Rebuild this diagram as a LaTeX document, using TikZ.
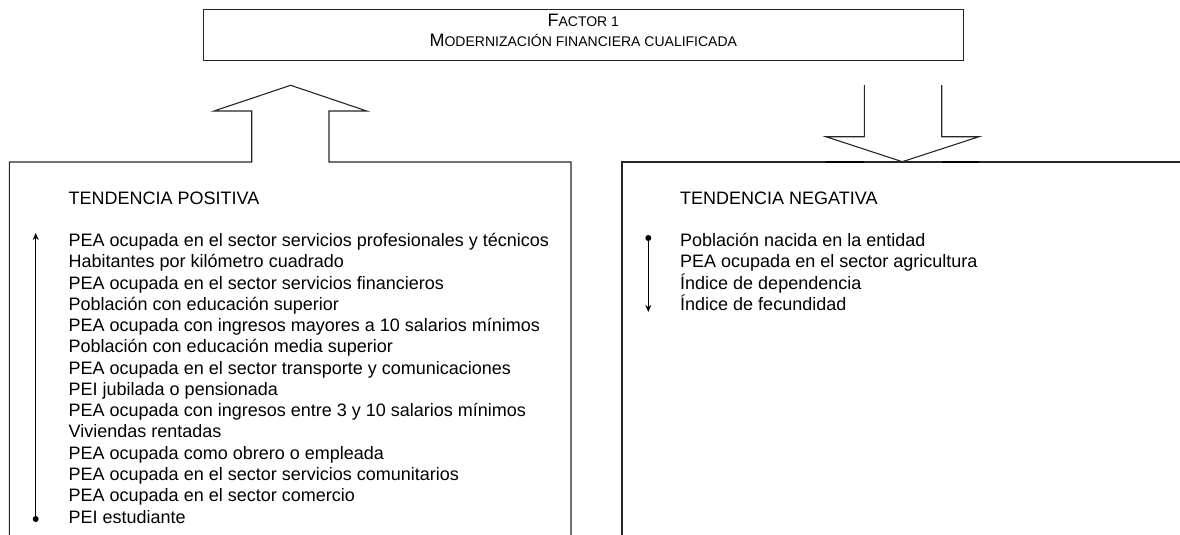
\documentclass[tikz,border=0pt]{standalone}
\usepackage{fontspec}
\setmainfont{Liberation Sans}
\usetikzlibrary{arrows.meta}
\begin{document}
\begin{tikzpicture}[x=1pt,y=-1pt,
  outline/.style={draw=black!85, line width=1.1pt, line join=miter},
  item/.style={anchor=base west, inner sep=0pt, font=\fontsize{18}{21}\selectfont},
  title/.style={anchor=base, inner sep=0pt, font=\fontsize{14}{18}\selectfont},
  dot/.style={circle, fill=black, inner sep=0pt, minimum size=6pt},
  varrow/.style={draw=black, line width=1pt, -{Stealth[length=7pt,width=6pt]}},
  topbox/.style={draw=black!85, line width=1.1pt, inner sep=0pt, minimum width=759.7pt, minimum height=51pt}]
\useasboundingbox (0,0) rectangle (1180,535);
% top box
\node[topbox] (f) at (583.3,34.8) {};
\node[title] (t1) at (583.3,27) {{\fontsize{18}{18}\selectfont F}ACTOR 1};
\node[title] (t2) at (583.3,47) {{\fontsize{18}{18}\selectfont M}ODERNIZACIÓN FINANCIERA CUALIFICADA};
% left box with up arrow
\draw[outline] (9.3,545) -- (9.3,162) -- (251.7,162) -- (251.7,111) -- (214,111) -- (290.7,85.3)
  -- (366.7,111) -- (329,111) -- (329,162) -- (571,162) -- (571,545);
% right box with down arrow
\draw[outline] (622,545) -- (622,162) -- (1190,162);
\draw[outline] (864.3,85) -- (864.3,136.7) -- (826,136.7) -- (902.3,161.7) -- (979,136.7) -- (941.7,136.7) -- (941.7,85);
\draw[draw=black, line width=2pt] (826,162) -- (864.3,162) (941.7,162) -- (979,162);
% headings
\node[item] (hp) at (68.5,204.3) {TENDENCIA POSITIVA};
\node[item] (hn) at (680,204.3) {TENDENCIA NEGATIVA};
% left list
\foreach \t [count=\i] in {PEA ocupada en el sector servicios profesionales y técnicos,
  Habitantes por kilómetro cuadrado,
  PEA ocupada en el sector servicios financieros,
  Población con educación superior,
  PEA ocupada con ingresos mayores a 10 salarios mínimos,
  Población con educación media superior,
  PEA ocupada en el sector transporte y comunicaciones,
  PEI jubilada o pensionada,
  PEA ocupada con ingresos entre 3 y 10 salarios mínimos,
  Viviendas rentadas,
  PEA ocupada como obrero o empleada,
  PEA ocupada en el sector servicios comunitarios,
  PEA ocupada en el sector comercio,
  PEI estudiante}
  \node[item] (p\i) at (68.5,{246.5+21.27*(\i-1)}) {\t};
% right list
\foreach \t [count=\i] in {Población nacida en la entidad,
  PEA ocupada en el sector agricultura,
  Índice de dependencia,
  Índice de fecundidad}
  \node[item] (n\i) at (680,{246.5+21.27*(\i-1)}) {\t};
% vertical arrows
\node[dot] (la) at (35.7,519) {};
\coordinate (lb) at (35.7,233);
\draw[varrow] (la) -- (lb);
\node[dot] (ra) at (648.3,238) {};
\coordinate (rb) at (648.3,312);
\draw[varrow] (ra) -- (rb);
\end{tikzpicture}
\end{document}
